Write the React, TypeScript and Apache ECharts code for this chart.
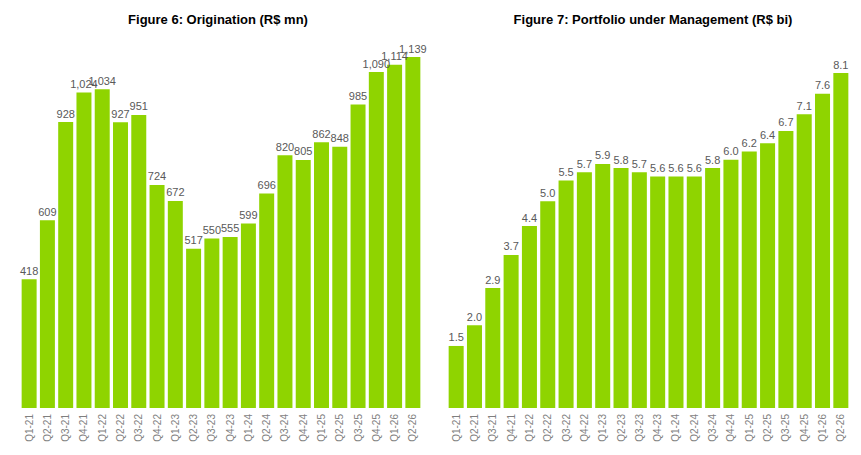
import { useEffect, useRef } from "react";
import * as echarts from "echarts";

const quarters = [
  "Q1-21", "Q2-21", "Q3-21", "Q4-21", "Q1-22", "Q2-22", "Q3-22", "Q4-22",
  "Q1-23", "Q2-23", "Q3-23", "Q4-23", "Q1-24", "Q2-24", "Q3-24", "Q4-24",
  "Q1-25", "Q2-25", "Q3-25", "Q4-25", "Q1-26", "Q2-26",
];
const origination = [
  418, 609, 928, 1024, 1034, 927, 951, 724, 672, 517, 550, 555, 599, 696,
  820, 805, 862, 848, 985, 1090, 1114, 1139,
];
const portfolio = [
  1.5, 2.0, 2.9, 3.7, 4.4, 5.0, 5.5, 5.7, 5.9, 5.8, 5.7, 5.6, 5.6, 5.6,
  5.8, 6.0, 6.2, 6.4, 6.7, 7.1, 7.6, 8.1,
];

const green = "#8fd400";
const font = "Liberation Sans, Arial, sans-serif";

export default function App() {
  const ref = useRef<HTMLDivElement>(null);

  useEffect(() => {
    if (!ref.current) return;
    const chart = echarts.init(ref.current, undefined, { renderer: "svg" });

    const xAxis = (gridIndex: number) => ({
      type: "category",
      gridIndex,
      data: quarters,
      axisLine: { show: false },
      axisTick: { show: false },
      axisLabel: { rotate: 90, color: "#7f7f7f", fontSize: 10, fontFamily: font, interval: 0, margin: 6 },
    });
    const yAxis = (gridIndex: number, max: number) => ({
      type: "value",
      gridIndex,
      min: 0,
      max,
      show: false,
      splitLine: { show: false },
    });

    chart.setOption({
      animation: false,
      textStyle: { fontFamily: font },
      title: [
        { text: "Figure 6: Origination (R$ mn)", left: 213, top: 8, textAlign: "center",
          textStyle: { fontSize: 13, fontWeight: "bold", color: "#000", fontFamily: font } },
        { text: "Figure 7: Portfolio under Management (R$ bi)", left: 648, top: 8, textAlign: "center",
          textStyle: { fontSize: 13, fontWeight: "bold", color: "#000", fontFamily: font } },
      ],
      grid: [
        { left: 20, width: 402, top: 57, height: 351 },
        { left: 447, width: 403, top: 73, height: 335 },
      ],
      xAxis: [xAxis(0), xAxis(1)],
      yAxis: [yAxis(0, 1139), yAxis(1, 8.1)],
      series: [
        {
          type: "bar", xAxisIndex: 0, yAxisIndex: 0, data: origination,
          barCategoryGap: "18%", itemStyle: { color: green },
          label: { show: true, position: "top", color: "#595959", fontSize: 11, distance: 3,
            formatter: (p: any) => p.value.toLocaleString("en-US") },
        },
        {
          type: "bar", xAxisIndex: 1, yAxisIndex: 1, data: portfolio,
          barCategoryGap: "18%", itemStyle: { color: green },
          label: { show: true, position: "top", color: "#595959", fontSize: 11, distance: 3,
            formatter: (p: any) => p.value.toFixed(1) },
        },
      ],
    });

    return () => chart.dispose();
  }, []);

  return (
    <div
      ref={ref}
      style={{ position: "absolute", left: 0, top: 0, width: 861, height: 455, background: "#fff" }}
    />
  );
}
